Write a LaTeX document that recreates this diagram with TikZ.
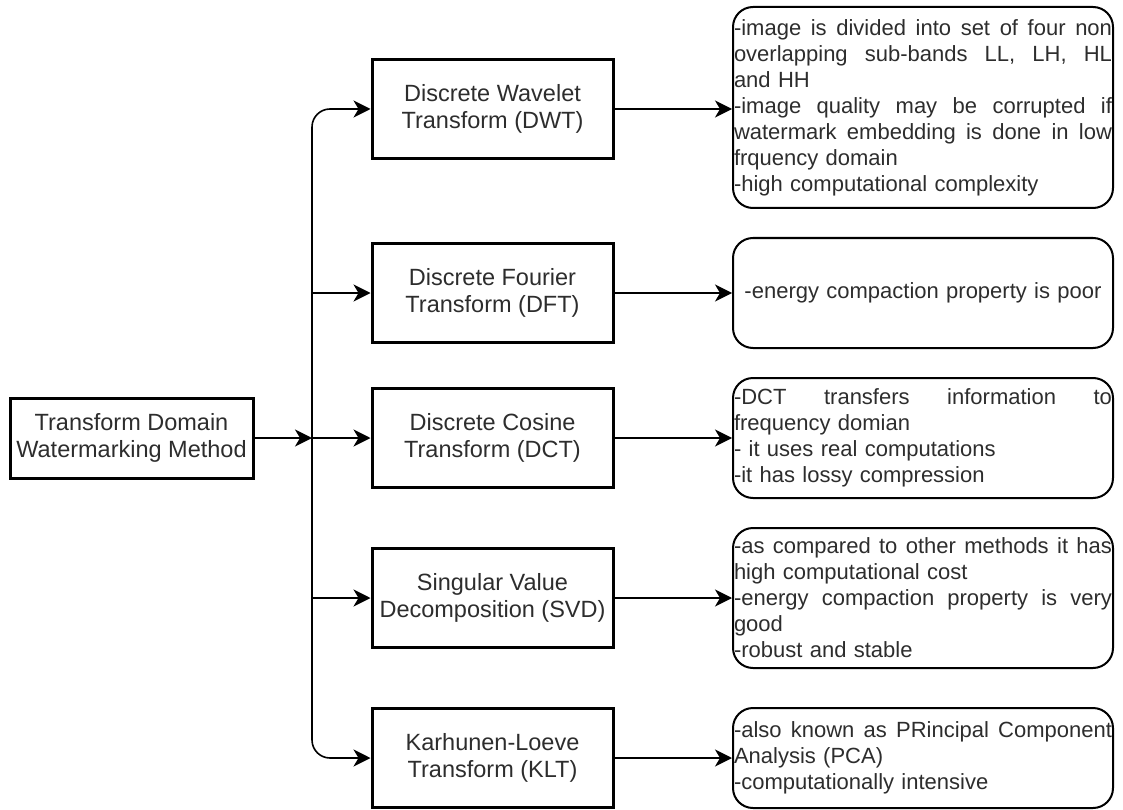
\documentclass[tikz,border=0pt]{standalone}
\usepackage{fontspec}
\setmainfont{Liberation Sans}
\usetikzlibrary{arrows.meta}
\definecolor{ink}{RGB}{45,45,45}
% width of the text column inside the note boxes
\newlength{\notew}\setlength{\notew}{378pt}
% a fully justified line of a note: interword spaces stretch to fill the column
\newcommand{\jl}[1]{\leavevmode\hbox to \notew{\spaceskip=0.278em plus 1fil\relax #1}}
\begin{document}
\begin{tikzpicture}[x=1pt,y=-1pt,
  mbox/.style={draw=black, line width=3pt, minimum width=241pt, minimum height=99pt,
    align=center, text=ink, inner sep=0pt, font=\fontsize{23.5}{27}\selectfont},
  srcbox/.style={mbox, minimum width=243pt, minimum height=80pt},
  rbox/.style={draw=black, line width=2pt, rounded corners=20pt, text width=378pt,
    inner xsep=1pt, inner ysep=0pt, align=left, text=ink, font=\fontsize{22}{26}\selectfont},
  conn/.style={line width=1.6pt, -{Stealth[length=17pt,width=17pt,inset=5pt]}}]
\useasboundingbox (0,0) rectangle (1123,810);

% source method
\node[srcbox] (src) at (131.5,438) {Transform Domain\\Watermarking Method};

% transforms
\node[mbox] (dwt) at (492.5,109) {Discrete Wavelet\\Transform (DWT)};
\node[mbox] (dft) at (492.5,293) {Discrete Fourier\\Transform (DFT)};
\node[mbox] (dct) at (492.5,438) {Discrete Cosine\\Transform (DCT)};
\node[mbox] (svd) at (492.5,598) {Singular Value\\Decomposition (SVD)};
\node[mbox] (klt) at (492.5,758) {Karhunen-Loeve\\Transform (KLT)};

% notes
\node[rbox, minimum height=201pt] (n1) at (923,107.5) {%
\jl{-image is divided into set of four non}\\
\jl{overlapping sub-bands LL, LH, HL}\\
and HH\\
\jl{-image quality may be corrupted if}\\
\jl{watermark embedding is done in low}\\
frquency domain\\
-high computational complexity};
\node[rbox, minimum height=110pt, align=center] (n2) at (923,293) {-energy compaction property is poor};
\node[rbox, minimum height=120pt] (n3) at (923,438) {%
\jl{-DCT transfers information to}\\
frequency domian\\
- it uses real computations\\
-it has lossy compression};
\node[rbox, minimum height=140pt] (n4) at (923,598) {%
\jl{-as compared to other methods it has}\\
high computational cost\\
\jl{-energy compaction property is very}\\
good\\
-robust and stable};
\node[rbox, minimum height=100pt] (n5) at (923,758) {%
\jl{-also known as PRincipal Component}\\
Analysis (PCA)\\
-computationally intensive};

% junction on the vertical trunk
\coordinate (j) at (312,438);

\draw[conn] (src.east) -- (j);
\draw[conn] (j) -- (dct.west);
\draw[conn, rounded corners=18pt] (j) |- (dwt.west);
\draw[conn, rounded corners=18pt] (j) |- (klt.west);
\draw[conn] (j |- dft.west) -- (dft.west);
\draw[conn] (j |- svd.west) -- (svd.west);

% transforms to notes
\draw[conn] (dwt.east) -- (n1.west |- dwt.east);
\draw[conn] (dft.east) -- (n2.west |- dft.east);
\draw[conn] (dct.east) -- (n3.west |- dct.east);
\draw[conn] (svd.east) -- (n4.west |- svd.east);
\draw[conn] (klt.east) -- (n5.west |- klt.east);
\end{tikzpicture}
\end{document}
